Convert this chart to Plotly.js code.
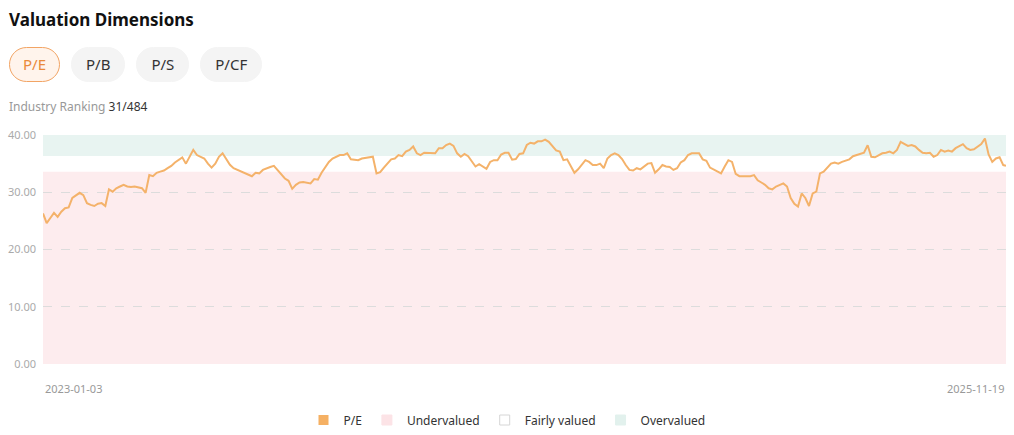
<!DOCTYPE html>
<html>
<head>
<meta charset="utf-8">
<script src="https://cdn.plot.ly/plotly-3.0.1.min.js"></script>
<style>
  html, body { margin: 0; padding: 0; background: #fff; }
  body { width: 1014px; height: 435px; position: relative; overflow: hidden; font-family: "Noto Sans", "Open Sans", sans-serif; }
  #chart { position: absolute; left: 0; top: 0; width: 1014px; height: 435px; }
  .title { position: absolute; left: 9px; top: 8px; font-size: 17px; font-weight: 700; color: #111; }
  .tabs { position: absolute; left: 9px; top: 47px; display: flex; gap: 11px; }
  .tab { height: 35px; box-sizing: border-box; border-radius: 18px; background: #f4f4f4; color: #333; font-size: 15px; line-height: 33px; padding: 0 14px; border: 1px solid #f4f4f4; }
  .tab.active { background: #fff4ec; color: #ea8a3a; border: 1px solid #f2a464; padding: 0 13px; }
  .rank { position: absolute; left: 9px; top: 98px; font-size: 12px; color: #999; }
  .rank b { font-weight: 400; color: #333; }
</style>
</head>
<body>
<div id="chart"></div>
<div class="title">Valuation Dimensions</div>
<div class="tabs">
  <div class="tab active">P/E</div>
  <div class="tab">P/B</div>
  <div class="tab">P/S</div>
  <div class="tab">P/CF</div>
</div>
<div class="rank">Industry Ranking <b>31/484</b></div>
<script>
// ---- data ----
const startDate = '2023-01-03';
const endDate = '2025-11-19';
const stepDays = 4;
const peValues = [
  26.3, 24.6, 25.5, 26.4, 25.7, 26.6, 27.2, 27.35, 29.0, 29.5,
  29.9, 29.5, 28.1, 27.8, 27.6, 28.0, 28.1, 27.6, 30.5, 30.1,
  30.7, 31.0, 31.3, 31.0, 30.9, 31.0, 30.8, 30.7, 29.9, 33.0,
  32.8, 33.4, 33.6, 33.8, 34.2, 34.6, 35.2, 35.6, 36.1, 35.0,
  36.2, 37.4, 36.5, 36.2, 35.9, 35.0, 34.3, 35.0, 36.2, 36.8,
  35.9, 34.8, 34.2, 33.9, 33.6, 33.3, 33.0, 32.8, 33.4, 33.3,
  33.9, 34.2, 34.4, 34.6, 33.8, 33.2, 32.4, 32.0, 30.6, 31.3,
  31.7, 31.8, 31.7, 31.55, 32.3, 32.2, 33.4, 34.4, 35.3, 35.9,
  36.2, 36.5, 36.5, 36.8, 35.75, 35.7, 35.6, 35.9, 36.0, 36.1,
  36.2, 33.3, 33.5, 34.3, 35.0, 35.75, 35.9, 36.5, 36.3, 37.1,
  37.4, 38.0, 36.8, 36.5, 36.9, 36.9, 36.8, 36.8, 37.7, 37.7,
  38.25, 38.5, 38.1, 36.8, 36.2, 36.7, 36.3, 35.3, 34.5, 34.9,
  34.5, 34.1, 35.3, 35.6, 35.6, 36.6, 36.9, 36.9, 35.7, 35.8,
  36.7, 36.8, 38.25, 38.65, 38.5, 38.9, 38.9, 39.2, 38.8, 38.0,
  37.3, 37.1, 35.6, 35.75, 34.5, 33.4, 34.0, 34.9, 35.6, 35.3,
  34.75, 34.75, 35.0, 34.2, 35.9, 36.5, 36.8, 36.5, 35.8, 34.75,
  33.9, 33.8, 34.2, 34.0, 34.5, 35.0, 35.1, 33.4, 34.0, 34.75,
  34.5, 34.4, 33.9, 34.2, 35.2, 35.6, 36.5, 36.8, 36.8, 36.8,
  35.75, 35.5, 34.3, 34.0, 33.6, 33.3, 34.5, 35.6, 35.3, 33.2,
  32.8, 32.8, 32.7, 32.8, 33.0, 32.1, 31.7, 31.3, 30.7, 30.5,
  31.0, 31.3, 31.55, 31.0, 29.0, 28.0, 27.5, 29.8, 29.0, 27.6,
  29.8, 30.1, 33.3, 33.6, 34.3, 35.0, 35.2, 35.0, 35.3, 35.5,
  35.75, 36.3, 36.5, 36.8, 36.9, 38.2, 36.2, 36.1, 36.5, 36.8,
  36.9, 37.1, 36.8, 37.4, 38.8, 38.5, 38.1, 38.25, 38.0, 37.4,
  36.9, 36.8, 36.9, 36.2, 36.5, 37.4, 37.1, 37.3, 37.1, 37.7,
  38.0, 38.4, 37.7, 37.4, 37.5, 38.0, 38.4, 39.4, 36.6, 35.3,
  35.9, 36.1, 34.75, 34.6
];
const bandNames = ['Undervalued', 'Fairly valued', 'Overvalued'];
const bandLow = [0, 33.58, 36.33];
const bandHigh = [33.58, 36.33, 40];
const bandColors = ['#fdecee', 'rgba(0,0,0,0)', '#e8f4f1'];
const legendFill = ['#fce3e6', '#ffffff', '#e2f1ed'];
const legendBorder = ['#fce3e6', '#d6d6d6', '#e2f1ed'];
const yTicks = [0, 10, 20, 30, 40];

// build date axis values (one observation every stepDays, last one on endDate)
const dates = [];
const t0 = Date.parse(startDate + 'T00:00:00Z');
for (let i = 0; i < peValues.length - 1; i++) {
  dates.push(new Date(t0 + i * stepDays * 86400000).toISOString().slice(0, 10));
}
dates.push(endDate);

const lineColor = '#f4b26a';
const traces = [
  {
    x: dates, y: peValues, type: 'scatter', mode: 'lines',
    line: { color: lineColor, width: 2 }, showlegend: false, hoverinfo: 'skip'
  },
  {
    x: [null], y: [null], type: 'scatter', mode: 'markers', name: 'P/E',
    marker: { symbol: 'square', size: 10, color: '#f5b063', line: { width: 0 } }
  }
];
bandNames.forEach((n, i) => {
  traces.push({
    x: [null], y: [null], type: 'scatter', mode: 'markers', name: n,
    marker: { symbol: 'square', size: 10, color: legendFill[i], line: { width: 1, color: legendBorder[i] } }
  });
});

const shapes = bandNames.map((n, i) => ({
  type: 'rect', xref: 'paper', yref: 'y', x0: 0, x1: 1,
  y0: bandLow[i], y1: bandHigh[i], fillcolor: bandColors[i],
  line: { width: 0 }, layer: 'below'
}));

const layout = {
  width: 1014, height: 435,
  margin: { l: 43, r: 8, t: 135, b: 71 },
  paper_bgcolor: '#fff', plot_bgcolor: 'rgba(0,0,0,0)',
  font: { family: '"Noto Sans", "Open Sans", sans-serif', color: '#333', size: 12 },
  xaxis: {
    type: 'date', range: [startDate, endDate],
    showgrid: false, zeroline: false, showline: false,
    showticklabels: false, ticks: '', fixedrange: true
  },
  yaxis: {
    range: [0, 40], tickvals: yTicks, tickformat: '.2f',
    showgrid: true, gridcolor: '#dcdcdc', griddash: 'dash', gridwidth: 1,
    zeroline: false, showline: false, ticks: '',
    tickfont: { size: 11, color: '#aaaaaa' }, ticklabelstandoff: 6, fixedrange: true
  },
  shapes: shapes,
  annotations: [
    { xref: 'x', yref: 'paper', x: dates[0], y: 0, yshift: -24, xanchor: 'left', yanchor: 'middle',
      text: dates[0], showarrow: false, font: { size: 11, color: '#999' } },
    { xref: 'x', yref: 'paper', x: dates[dates.length - 1], y: 0, yshift: -24, xanchor: 'right', yanchor: 'middle',
      text: dates[dates.length - 1], showarrow: false, font: { size: 11, color: '#999' } }
  ],
  showlegend: true,
  legend: {
    orientation: 'h', xref: 'container', x: 0.5, xanchor: 'center',
    yref: 'container', y: 15 / 435, yanchor: 'middle',
    font: { size: 12, color: '#333' }, itemclick: false, itemdoubleclick: false,
    traceorder: 'normal'
  },
  hovermode: false
};

Plotly.newPlot('chart', traces, layout, { displayModeBar: false, staticPlot: true });
</script>
</body>
</html>
